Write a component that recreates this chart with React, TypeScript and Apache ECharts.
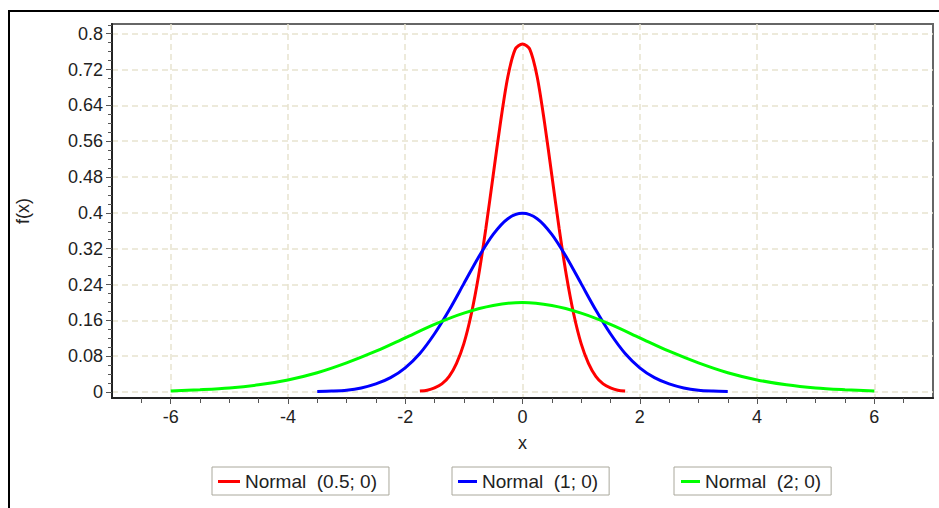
import React, { useEffect, useRef } from "react";
import * as echarts from "echarts";

// Tick labels
const xTicks = [-6, -4, -2, 0, 2, 4, 6];
const xMinorTicks = [-6.5, -6, -5.5, -5, -4.5, -4, -3.5, -3, -2.5, -2, -1.5, -1, -0.5, 0, 0.5, 1, 1.5, 2, 2.5, 3, 3.5, 4, 4.5, 5, 5.5, 6, 6.5];
const yTicks = [0, 0.08, 0.16, 0.24, 0.32, 0.4, 0.48, 0.56, 0.64, 0.72, 0.8];
const yMinorTicks = [0, 0.02, 0.04, 0.06, 0.08, 0.1, 0.12, 0.14, 0.16, 0.18, 0.2, 0.22, 0.24, 0.26, 0.28, 0.3, 0.32, 0.34, 0.36, 0.38, 0.4, 0.42, 0.44, 0.46, 0.48, 0.5, 0.52, 0.54, 0.56, 0.58, 0.6, 0.62, 0.64, 0.66, 0.68, 0.7, 0.72, 0.74, 0.76, 0.78, 0.8, 0.82];

// Series names
const seriesNames = ["Normal  (0.5; 0)", "Normal  (1; 0)", "Normal  (2; 0)"];

// Normal (0.5; 0)
const redX = [-1.75, -1.625, -1.5, -1.375, -1.25, -1.125, -1, -0.875, -0.75, -0.625, -0.5, -0.375, -0.25, -0.125, 0, 0.125, 0.25, 0.375, 0.5, 0.625, 0.75, 0.875, 1, 1.125, 1.25, 1.375, 1.5, 1.625, 1.75];
const redY = [0.002, 0.004, 0.009, 0.018, 0.035, 0.064, 0.108, 0.173, 0.259, 0.365, 0.484, 0.602, 0.704, 0.765, 0.777, 0.765, 0.704, 0.602, 0.484, 0.365, 0.259, 0.173, 0.108, 0.064, 0.035, 0.018, 0.009, 0.004, 0.002];

// Normal (1; 0)
const blueX = [-3.5, -3.25, -3, -2.75, -2.5, -2.25, -2, -1.75, -1.5, -1.25, -1, -0.75, -0.5, -0.25, 0, 0.25, 0.5, 0.75, 1, 1.25, 1.5, 1.75, 2, 2.25, 2.5, 2.75, 3, 3.25, 3.5];
const blueY = [0.001, 0.002, 0.004, 0.009, 0.018, 0.032, 0.054, 0.086, 0.13, 0.183, 0.242, 0.301, 0.352, 0.387, 0.399, 0.387, 0.352, 0.301, 0.242, 0.183, 0.13, 0.086, 0.054, 0.032, 0.018, 0.009, 0.004, 0.002, 0.001];

// Normal (2; 0)
const greenX = [-6, -5.5, -5, -4.5, -4, -3.5, -3, -2.5, -2, -1.5, -1, -0.5, 0, 0.5, 1, 1.5, 2, 2.5, 3, 3.5, 4, 4.5, 5, 5.5, 6];
const greenY = [0.002, 0.005, 0.009, 0.016, 0.027, 0.043, 0.065, 0.091, 0.121, 0.151, 0.176, 0.193, 0.2, 0.193, 0.176, 0.151, 0.121, 0.091, 0.065, 0.043, 0.027, 0.016, 0.009, 0.005, 0.002];

const colors = ["#ff0000", "#0000ff", "#00ff00"];

const FONT = "'Liberation Sans', Arial, sans-serif";
const X_MIN = -7;
const X_MAX = 7;
const Y_MIN = -0.0134;
const Y_MAX = 0.8217;

const zip = (xs: number[], ys: number[]) => xs.map((x, i) => [x, ys[i]]);

export default function App() {
  const ref = useRef<HTMLDivElement>(null);

  useEffect(() => {
    if (!ref.current) return;
    const chart = echarts.init(ref.current, undefined, { renderer: "svg" });

    const gridLine = {
      show: true,
      lineStyle: { color: "#e8e4cf", width: 1.5, type: [6, 4] as any },
    };

    const legendBase = (name: string, left: number, padding: number[], itemWidth: number) => ({
      show: true,
      data: [name],
      left,
      top: 467,
      orient: "horizontal",
      padding,
      borderColor: "#aaa89c",
      borderWidth: 1,
      icon: "rect",
      itemWidth,
      itemHeight: 3,
      selectedMode: false,
      textStyle: { fontSize: 19, color: "#222", fontFamily: FONT, lineHeight: 19 },
    });

    const option: any = {
      animation: false,
      backgroundColor: "#ffffff",
      color: colors,
      graphic: [
        {
          type: "rect",
          shape: { x: 9, y: 11, width: 1000, height: 1000 },
          style: { fill: "none", stroke: "#000", lineWidth: 2 },
          silent: true,
        },
      ],
      grid: {
        left: 112,
        top: 24,
        right: 6,
        bottom: 110,
        show: true,
        borderColor: "#666",
        borderWidth: 2,
        backgroundColor: "transparent",
      },
      legend: [
        legendBase(seriesNames[0], 212, [5, 12, 4, 6], 22),
        legendBase(seriesNames[1], 452, [5, 11, 4, 6], 19),
        legendBase(seriesNames[2], 674, [5, 10, 4, 7], 19),
      ],
      xAxis: [
        {
          type: "value",
          min: X_MIN,
          max: X_MAX,
          position: "bottom",
          name: "x",
          nameLocation: "middle",
          nameGap: 36,
          nameTextStyle: { fontSize: 18, color: "#222", fontFamily: FONT },
          axisLine: { show: true, onZero: false, lineStyle: { color: "#222", width: 2 } },
          axisTick: { show: true, customValues: xTicks, length: 6, lineStyle: { color: "#555" } },
          axisLabel: { show: true, customValues: xTicks, margin: 10, fontSize: 18, color: "#222", fontFamily: FONT },
          splitLine: gridLine,
        },
        {
          type: "value",
          min: X_MIN,
          max: X_MAX,
          position: "bottom",
          axisLine: { show: false, onZero: false },
          axisTick: { show: true, customValues: xMinorTicks, length: 5, lineStyle: { color: "#555" } },
          axisLabel: { show: false },
          splitLine: { show: false },
        },
      ],
      yAxis: [
        {
          type: "value",
          min: Y_MIN,
          max: Y_MAX,
          position: "left",
          name: "f(x)",
          nameLocation: "middle",
          nameRotate: 90,
          nameGap: 80,
          nameTextStyle: { fontSize: 18, color: "#222", fontFamily: FONT },
          axisLine: { show: true, onZero: false, lineStyle: { color: "#222", width: 2 } },
          axisTick: { show: true, customValues: yTicks, length: 6, lineStyle: { color: "#555" } },
          axisLabel: { show: true, customValues: yTicks, margin: 9, fontSize: 18, color: "#222", fontFamily: FONT },
          splitLine: gridLine,
        },
        {
          type: "value",
          min: Y_MIN,
          max: Y_MAX,
          position: "left",
          axisLine: { show: false, onZero: false },
          axisTick: { show: true, customValues: yMinorTicks, length: 4, lineStyle: { color: "#555" } },
          axisLabel: { show: false },
          splitLine: { show: false },
        },
      ],
      series: [
        { name: seriesNames[0], data: zip(redX, redY) },
        { name: seriesNames[1], data: zip(blueX, blueY) },
        { name: seriesNames[2], data: zip(greenX, greenY) },
      ].map((s, i) => ({
        type: "line",
        name: s.name,
        data: s.data,
        xAxisIndex: 0,
        yAxisIndex: 0,
        showSymbol: false,
        smooth: 0.3,
        lineStyle: { color: colors[i], width: 3 },
        itemStyle: { color: colors[i] },
      })),
    };

    chart.setOption(option);
    return () => chart.dispose();
  }, []);

  return (
    <div
      ref={ref}
      style={{ position: "absolute", left: 0, top: 0, width: 939, height: 508 }}
    />
  );
}
